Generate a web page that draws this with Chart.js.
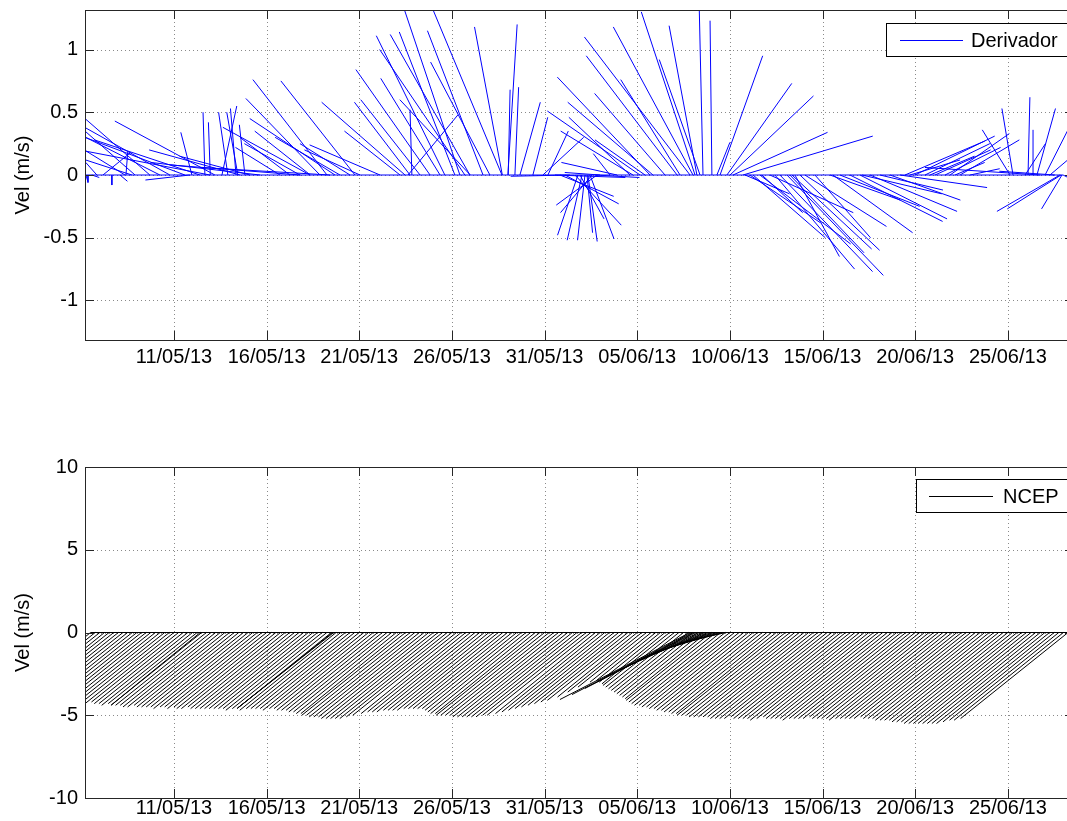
<!DOCTYPE html>
<html>
<head>
<meta charset="utf-8">
<script src="https://cdn.jsdelivr.net/npm/chart.js@4.4.1/dist/chart.umd.min.js"></script>
<style>
  html, body { margin: 0; padding: 0; background: #fff; }
  body { width: 1067px; height: 821px; overflow: hidden; position: relative; }
  canvas { position: absolute; left: 0; }
  #chart-derivador { top: 0; }
  #chart-ncep { top: 420px; }
</style>
</head>
<body>
<canvas id="chart-derivador" width="1080" height="400"></canvas>
<canvas id="chart-ncep" width="1080" height="401"></canvas>
<script>
// Eje x: días desde 06/05/13 00:00
const TICK_DAYS = [5, 10, 15, 20, 25, 30, 35, 40, 45, 50];
const TICK_LABELS = ['11/05/13', '16/05/13', '21/05/13', '26/05/13', '31/05/13',
  '05/06/13', '10/06/13', '15/06/13', '20/06/13', '25/06/13'];

const TOP_Y_TICKS = [-1, -0.5, 0, 0.5, 1];
const TOP_Y_LABELS = ['-1', '-0.5', '0', '0.5', '1'];
const BOTTOM_Y_TICKS = [-10, -5, 0, 5, 10];
const BOTTOM_Y_LABELS = ['-10', '-5', '0', '5', '10'];

// Derivador (m/s) - tiempo de cada vector (días)
const drifterDay = [
  0.25, 0.36, 0.57, 0.84, 1.17, 1.65, 2.09, 2.36, 2.41, 2.73, 2.90, 3.70, 4.24, 4.78, 5.59, 5.86,
  5.97, 6.40, 6.67, 6.94, 6.96, 7.21, 7.59, 7.91, 8.35, 8.45, 8.56, 8.83, 9.10, 9.64, 10.72, 11.26,
  11.80, 11.82, 12.34, 12.36, 12.88, 13.26, 13.42, 13.69, 13.96, 14.50, 14.77, 15.04, 16.12, 17.20,
  17.47, 17.63, 17.74, 17.84, 18.28, 18.82, 19.36, 19.62, 20.16, 20.43, 20.70, 20.97, 20.99, 21.68,
  22.05, 22.70, 22.72, 23.02, 23.04, 23.40, 23.67, 24.37, 24.91, 25.18, 25.56, 25.83, 26.10, 26.37,
  26.64, 26.80, 26.91, 27.02, 27.18, 27.29, 27.34, 27.45, 27.56, 27.72, 27.83, 27.99, 28.53, 28.91,
  29.61, 29.77, 30.15, 30.42, 30.69, 30.85, 31.50, 32.15, 32.31, 32.85, 33.01, 33.12, 33.22, 33.39,
  33.55, 34.03, 34.30, 34.47, 34.84, 35.01, 35.17, 35.71, 35.82, 36.08, 36.25, 36.62, 36.73, 37.16,
  37.43, 37.70, 38.08, 38.24, 38.35, 38.51, 38.78, 39.05, 39.59, 40.40, 40.56, 40.94, 41.48, 42.02,
  42.13, 42.56, 43.10, 43.64, 44.18, 44.45, 44.72, 44.99, 45.53, 45.80, 46.07, 46.61, 46.88, 47.15,
  47.42, 47.96, 50.12, 50.28, 50.93, 51.09, 51.36, 51.57, 51.73, 52.01, 52.27, 52.54, 52.81, 52.87,
  52.92, 52.98
];
const drifterU = [
  0.01, 0.00, 0.04, -0.06, 0.15, 0.00, 0.04, -0.22, 0.01, -0.25, -0.27, -0.35, -0.40, -0.46, -0.54, -0.24,
  -0.06, -0.57, -0.01, -0.67, -0.01, -0.54, 0.08, -0.05, -0.03, -0.06, -0.49, -0.03, -0.38, -0.59, -0.24, -0.27,
  -0.30, -0.70, -0.47, -0.30, -0.40, -0.40, -0.70, -0.46, -0.35, -0.27, -0.40, -0.30, -0.38, -0.30,
  -0.45, 0.27, -0.30, -0.01, -0.32, -0.40, -0.32, -0.37, -0.30, -0.30, -0.46, -0.43, -0.38, -0.30,
  -0.32, -0.37, -0.15, 0.05, 0.01, 0.02, 0.11, 0.08, 0.22, 0.11, 0.38, 0.29, 0.29, -0.32,
  0.25, -0.11, 0.13, -0.08, -0.04, 0.03, 0.05, 0.13, -0.17, 0.24, -0.22, -0.19, -0.09, -0.30,
  -0.33, -0.39, -0.50, -0.27, -0.50, -0.46, -0.38, -0.49, -0.32, -0.57, -0.43, -0.29, -0.15, -0.22,
  -0.02, -0.01, 0.07, 0.23, 0.35, 0.45, 0.51, 0.70, 0.24, 0.38, 0.39, 0.49, 0.22, 0.45,
  0.43, 0.50, 0.52, 0.40, 0.43, 0.24, 0.43, 0.44, 0.30, 0.38, 0.43, 0.43, 0.50, 0.47,
  0.43, 0.47, 0.34, 0.38, 0.47, 0.43, 0.27, 0.43, 0.35, 0.24, 0.30, 0.30, 0.32, 0.16,
  0.32, 0.16, -0.15, -0.06, 0.11, 0.01, 0.00, 0.10, -0.62, 0.12, 0.16, -0.30, -0.34, -0.29,
  -0.11, 0.04
];
const drifterV = [
  -0.05, -0.06, -0.02, 0.10, 0.18, -0.08, -0.05, 0.20, 0.19, 0.12, 0.35, 0.45, 0.30, 0.38, 0.30, -0.04,
  0.34, 0.28, 0.50, 0.19, 0.42, 0.43, 0.55, 0.50, 0.53, 0.50, 0.20, 0.40, 0.15, 0.10, 0.22, 0.30,
  0.25, 0.08, 0.38, 0.35, 0.61, 0.76, 0.06, 0.45, 0.30, 0.25, 0.75, 0.20, 0.24, 0.35,
  0.58, 0.48, 0.58, 0.52, 0.60, 0.84, 0.77, 1.11, 1.14, 1.32, 1.00, 1.12, 0.60, 1.15,
  0.90, 1.31, 1.18, 1.20, 0.68, 0.70, 0.58, 0.46, 0.30, 0.35, -0.02, -0.17, -0.23, -0.01,
  -0.40, -0.48, -0.35, -0.52, -0.52, -0.46, -0.53, -0.51, -0.30, -0.02, -0.24, 0.02, 0.17, 0.10,
  0.46, 0.35, 0.51, 0.28, 0.78, 0.58, 0.65, 0.95, 0.76, 1.10, 1.18, 1.30, 1.19, 0.92,
  1.31, 1.23, 0.26, 0.95, 0.73, 0.63, 0.34, 0.31, -0.15, -0.38, -0.50, -0.55, -0.30, -0.30,
  -0.75, -0.77, -0.80, -0.62, -0.59, -0.65, -0.60, -0.41, -0.50, -0.20, -0.46, -0.25, -0.37, -0.35,
  -0.15, -0.29, -0.12, -0.20, -0.10, 0.27, 0.12, 0.31, 0.25, 0.15, 0.20, 0.22, 0.33, 0.10,
  0.28, 0.05, 0.36, 0.53, 0.25, 0.62, 0.36, 0.53, 0.06, 0.35, 0.20, 0.03, -0.29, -0.27,
  -0.27, -0.03
];

// NCEP (m/s) - serie cada 6 h desde el día 0.5
const NCEP_START = 0.5;
const NCEP_STEP = 0.25;
const ncepU = [
  -4.4, -4.6, -4.6, -4.4,  -4.6, -4.6, -4.7, -4.6,  -4.6, -4.7, -4.6, -4.7,  -4.7, -4.6, -4.7, -4.7,
  -4.7, -4.7, -4.8, -4.7,  -4.8, -4.8, -4.9, -4.8,  -4.9, -4.9, -4.9, -5.0,  -5.0, -4.9, -5.0, -5.0,
  -5.0, -5.0, -5.1, -5.0,  -5.0, -5.1, -5.0, -5.1,  -5.1, -5.0, -5.1, -5.1,  -5.1, -5.1, -5.1, -5.1,
  -5.1, -5.1, -5.2, -5.1,  -5.1, -5.2, -5.1, -5.1,  -5.1, -5.1, -5.2, -5.1,  -5.1, -5.2, -5.2, -5.2,
  -5.3, -5.3, -5.4, -5.4,  -5.6, -5.6, -5.7, -5.7,  -5.7, -5.8, -5.8, -5.8,  -5.8, -5.8, -5.7, -5.6,
  -5.4, -5.3, -5.3, -5.3,  -5.2, -5.2, -5.2, -5.2,  -5.1, -5.1, -5.1, -5.1,  -5.1, -5.2, -5.3, -5.4,
  -5.4, -5.6, -5.6, -5.6,  -5.6, -5.7, -5.7, -5.7,  -5.7, -5.7, -5.7, -5.6,  -5.6, -5.4, -5.3, -5.2,
  -5.1, -5.0, -4.9, -4.8,  -4.7, -4.6, -4.3, -4.0,  -3.7, -3.3, -3.2, -3.3,  -3.4, -3.6, -3.7, -3.8,
  -3.9, -4.0, -4.1, -4.2,  -4.3, -4.4, -4.6, -4.7,  -4.8, -4.9, -4.9, -5.0,  -5.0, -5.1, -5.1, -5.2,
  -5.2, -5.3, -5.3, -5.4,  -5.4, -5.6, -5.6, -5.6,  -5.7, -5.7, -5.7, -5.7,  -5.7, -5.8, -5.8, -5.8,
  -5.8, -5.7, -5.8, -5.8,  -5.8, -5.8, -5.9, -5.8,  -5.7, -5.8, -5.8, -5.8,  -5.8, -5.9, -5.8, -5.8,
  -5.8, -5.8, -5.7, -5.8,  -5.8, -5.8, -5.8, -5.9,  -5.8, -5.8, -5.8, -5.8,  -5.8, -5.7, -5.8, -5.8,
  -5.8, -5.9, -5.9, -5.9,  -5.9, -6.0, -6.0, -6.0,  -6.1, -6.1, -6.1, -6.1,  -6.1, -6.1, -6.1, -6.1,
  -6.0, -5.9, -5.9, -5.8
];
const ncepV = [
  -4.0, -4.1, -4.1, -4.0,  -4.1, -4.1, -4.2, -4.1,  -4.1, -4.2, -4.1, -4.2,  -4.2, -4.1, -4.2, -4.2,
  -4.2, -4.2, -4.3, -4.2,  -4.3, -4.3, -4.4, -4.3,  -4.4, -4.4, -4.4, -4.5,  -4.5, -4.4, -4.5, -4.5,
  -4.5, -4.5, -4.6, -4.5,  -4.5, -4.6, -4.5, -4.6,  -4.6, -4.5, -4.6, -4.6,  -4.6, -4.6, -4.6, -4.6,
  -4.6, -4.6, -4.7, -4.6,  -4.6, -4.7, -4.6, -4.6,  -4.6, -4.6, -4.7, -4.6,  -4.6, -4.7, -4.7, -4.7,
  -4.8, -4.8, -4.9, -4.9,  -5.0, -5.0, -5.1, -5.1,  -5.1, -5.2, -5.2, -5.2,  -5.2, -5.2, -5.1, -5.0,
  -4.9, -4.8, -4.8, -4.8,  -4.7, -4.7, -4.7, -4.7,  -4.6, -4.6, -4.6, -4.6,  -4.6, -4.7, -4.8, -4.9,
  -4.9, -5.0, -5.0, -5.0,  -5.0, -5.1, -5.1, -5.1,  -5.1, -5.1, -5.1, -5.0,  -5.0, -4.9, -4.8, -4.7,
  -4.6, -4.5, -4.4, -4.3,  -4.2, -4.1, -3.9, -3.6,  -3.3, -3.0, -2.9, -3.0,  -3.1, -3.2, -3.3, -3.4,
  -3.5, -3.6, -3.7, -3.8,  -3.9, -4.0, -4.1, -4.2,  -4.3, -4.4, -4.4, -4.5,  -4.5, -4.6, -4.6, -4.7,
  -4.7, -4.8, -4.8, -4.9,  -4.9, -5.0, -5.0, -5.0,  -5.1, -5.1, -5.1, -5.1,  -5.1, -5.2, -5.2, -5.2,
  -5.2, -5.1, -5.2, -5.2,  -5.2, -5.2, -5.3, -5.2,  -5.1, -5.2, -5.2, -5.2,  -5.2, -5.3, -5.2, -5.2,
  -5.2, -5.2, -5.1, -5.2,  -5.2, -5.2, -5.2, -5.3,  -5.2, -5.2, -5.2, -5.2,  -5.2, -5.1, -5.2, -5.2,
  -5.2, -5.3, -5.3, -5.3,  -5.3, -5.4, -5.4, -5.4,  -5.5, -5.5, -5.5, -5.5,  -5.5, -5.5, -5.5, -5.5,
  -5.4, -5.3, -5.3, -5.2
];

// NCEP: vectores adicionales (muestreo denso) que forman las franjas oscuras
const ncepExtraDay = [
  6.42, 13.56, 13.62,
  32.85, 32.96, 33.06, 33.17, 33.33, 33.49, 33.66, 33.82, 33.98, 34.14,
  34.30, 34.47, 34.63, 34.79
];
const ncepExtraU = [
  -4.80, -5.14, -5.17,
  -7.02, -6.48, -5.88, -5.34, -4.91, -4.53, -4.16, -3.83, -3.51, -3.18,
  -2.86, -2.54, -2.21, -1.89
];
const ncepExtraV = [
  -4.38, -4.58, -4.55,
  -4.05, -3.75, -3.38, -2.96, -2.60, -2.30, -1.99, -1.69, -1.45, -1.21,
  -1.03, -0.85, -0.66, -0.48
];

// Escala horizontal de los vectores (días por m/s)
const TOP_SCALE = 10;
const BOTTOM_SCALE = 1;

const FONT = "'Liberation Sans', Arial, Helvetica, sans-serif";
const FONT_SIZE = 20;

/**
 * Segmentos tipo "feather": base en (t, 0), punta en (t + u*escala, v)
 */
function featherPoints(days, us, vs, scale) {
  const pts = [];
  days.forEach((t, i) => {
    pts.push({ x: t, y: 0 });
    pts.push({ x: t + us[i] * scale, y: vs[i] });
    pts.push({ x: t, y: null });
  });
  return pts;
}

/**
 * Ejes estilo MATLAB: rejilla punteada, marco, marcas hacia adentro y leyenda
 */
const matlabAxes = {
  id: 'matlabAxes',
  beforeDatasetsDraw(chart, args, opts) {
    const { ctx, chartArea: a, scales: { x, y } } = chart;
    ctx.save();
    ctx.strokeStyle = opts.gridColor;
    ctx.lineWidth = 1;
    ctx.setLineDash([1, 3]);
    ctx.beginPath();
    x.ticks.forEach(t => {
      const px = Math.round(x.getPixelForValue(t.value)) + 0.5;
      ctx.moveTo(px, a.top);
      ctx.lineTo(px, a.bottom);
    });
    y.ticks.forEach(t => {
      const py = Math.round(y.getPixelForValue(t.value)) + 0.5;
      ctx.moveTo(a.left, py);
      ctx.lineTo(a.right, py);
    });
    ctx.stroke();
    ctx.restore();
  },
  afterDatasetsDraw(chart, args, opts) {
    const { ctx, chartArea: a, scales: { x, y } } = chart;
    const L = 9;
    ctx.save();
    ctx.strokeStyle = '#262626';
    ctx.lineWidth = 1;
    ctx.beginPath();
    x.ticks.forEach(t => {
      const px = Math.round(x.getPixelForValue(t.value)) + 0.5;
      ctx.moveTo(px, a.bottom);
      ctx.lineTo(px, a.bottom - L);
      ctx.moveTo(px, a.top);
      ctx.lineTo(px, a.top + L);
    });
    y.ticks.forEach(t => {
      const py = Math.round(y.getPixelForValue(t.value)) + 0.5;
      ctx.moveTo(a.left, py);
      ctx.lineTo(a.left + L, py);
      ctx.moveTo(a.right, py);
      ctx.lineTo(a.right - L, py);
    });
    ctx.stroke();
    ctx.strokeRect(Math.round(a.left) + 0.5, Math.round(a.top) + 0.5,
      Math.round(a.width), Math.round(a.height));

    // Leyenda
    const lg = opts.legend;
    ctx.fillStyle = '#fff';
    ctx.fillRect(lg.left + 0.5, lg.top + 0.5, lg.right - lg.left, lg.bottom - lg.top);
    ctx.strokeStyle = '#000';
    ctx.strokeRect(lg.left + 0.5, lg.top + 0.5, lg.right - lg.left, lg.bottom - lg.top);
    const my = Math.round((lg.top + lg.bottom) / 2) + 0.5;
    ctx.strokeStyle = lg.color;
    ctx.beginPath();
    ctx.moveTo(lg.lineFrom, my);
    ctx.lineTo(lg.lineTo, my);
    ctx.stroke();
    ctx.fillStyle = '#000';
    ctx.font = FONT_SIZE + 'px ' + FONT;
    ctx.textBaseline = 'middle';
    ctx.textAlign = 'left';
    ctx.fillText(lg.text, lg.textX, my + 1);
    ctx.restore();
  }
};

function makeChart(canvasId, cfg) {
  const pts = featherPoints(cfg.days, cfg.u, cfg.v, cfg.scale);
  const first = Math.min(...cfg.days);
  const last = Math.max(...cfg.days);
  const base = [{ x: first, y: 0 }, { x: last, y: 0 }];
  return new Chart(document.getElementById(canvasId), {
    type: 'scatter',
    data: {
      datasets: [
        {
          label: cfg.label,
          data: pts,
          showLine: true,
          spanGaps: false,
          borderColor: cfg.color,
          borderWidth: 1,
          pointRadius: 0,
          tension: 0
        },
        {
          label: 'base',
          data: base,
          showLine: true,
          borderColor: cfg.color,
          borderWidth: 1,
          pointRadius: 0
        }
      ]
    },
    options: {
      responsive: false,
      animation: false,
      events: [],
      layout: { padding: { top: cfg.padTop, right: 6, left: 0, bottom: 0 } },
      plugins: {
        legend: { display: false },
        tooltip: { enabled: false },
        matlabAxes: { gridColor: '#8a8a8a', legend: cfg.legend }
      },
      scales: {
        x: {
          type: 'linear',
          min: 0.2,
          max: 53.57,
          grid: { display: false, drawTicks: false },
          border: { display: false },
          afterBuildTicks: s => { s.ticks = TICK_DAYS.map(v => ({ value: v })); },
          afterFit: s => { s.height = cfg.xHeight; s.paddingLeft = 0; s.paddingRight = 0; },
          ticks: {
            autoSkip: false,
            maxRotation: 0,
            padding: cfg.xPad,
            color: '#000',
            font: { family: FONT, size: FONT_SIZE },
            callback: v => TICK_LABELS[TICK_DAYS.indexOf(v)]
          }
        },
        y: {
          min: cfg.yMin,
          max: cfg.yMax,
          grid: { display: false, drawTicks: false },
          border: { display: false },
          afterBuildTicks: s => { s.ticks = cfg.yTicks.map(v => ({ value: v })); },
          afterFit: s => { s.width = 85; s.paddingTop = 0; s.paddingBottom = 0; },
          ticks: {
            padding: 7,
            color: '#000',
            font: { family: FONT, size: FONT_SIZE },
            callback: v => cfg.yLabels[cfg.yTicks.indexOf(v)]
          },
          title: {
            display: true,
            text: 'Vel (m/s)',
            color: '#000',
            font: { family: FONT, size: FONT_SIZE },
            padding: { top: 11, bottom: 0 }
          }
        }
      }
    },
    plugins: [matlabAxes]
  });
}

makeChart('chart-derivador', {
  label: 'Derivador',
  days: drifterDay, u: drifterU, v: drifterV, scale: TOP_SCALE,
  color: '#0000ff',
  padTop: 10, xHeight: 60, xPad: 5,
  yMin: -1.315, yMax: 1.315,
  yTicks: TOP_Y_TICKS, yLabels: TOP_Y_LABELS,
  legend: { left: 886, top: 23, right: 1070, bottom: 56, lineFrom: 900, lineTo: 963,
    textX: 971, text: 'Derivador', color: '#0000ff' }
});

const ncepDays = ncepV.map((_, i) => NCEP_START + i * NCEP_STEP);
makeChart('chart-ncep', {
  label: 'NCEP',
  days: ncepDays.concat(ncepExtraDay),
  u: ncepU.concat(ncepExtraU),
  v: ncepV.concat(ncepExtraV),
  scale: BOTTOM_SCALE,
  color: '#000000',
  padTop: 47, xHeight: 23, xPad: -2,
  yMin: -10, yMax: 10,
  yTicks: BOTTOM_Y_TICKS, yLabels: BOTTOM_Y_LABELS,
  legend: { left: 916, top: 59, right: 1070, bottom: 92, lineFrom: 929, lineTo: 993,
    textX: 1003, text: 'NCEP', color: '#000000' }
});
</script>
</body>
</html>
